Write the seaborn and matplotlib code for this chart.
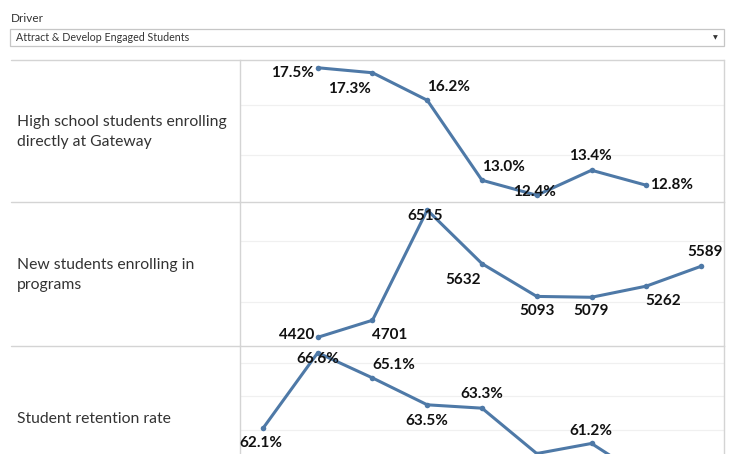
import numpy as np
import pandas as pd
import seaborn as sns
import matplotlib.pyplot as plt
from matplotlib.lines import Line2D
from matplotlib.patches import Rectangle

# data (x = period index, 9 periods)
hs_period = [1, 2, 3, 4, 5, 6, 7]
hs_rate = [17.5, 17.3, 16.2, 13.0, 12.4, 13.4, 12.8]

new_period = [1, 2, 3, 4, 5, 6, 7, 8]
new_students = [4420, 4701, 6515, 5632, 5093, 5079, 5262, 5589]

ret_period = [0, 1, 2, 3, 4, 5, 6, 7]
ret_rate = [62.1, 66.6, 65.1, 63.5, 63.3, 60.6, 61.2, 59.1]

row_labels = ['High school students enrolling\ndirectly at Gateway',
              'New students enrolling in\nprograms',
              'Student retention rate']

# label placement (pixel offsets from each point, None = label falls below the crop)
hs_off = [(-25, -5), (-23, -16), (21, 13), (21, 13), (-2, 3), (-1, 14), (25, 0)]
new_off = [(-21, 2), (17, -15), (-2, -6), (-19, -16), (0, -15), (-1, -14), (17, -15), (4, 14)]
ret_off = [(-2, -15), (0, -6), (21, 13), (0, -16), (0, 14), None, (-1, 12), None]

sns.set_style('white')
plt.rcParams['font.family'] = ['Lato', 'DejaVu Sans']

W, H = 736, 454
fig = plt.figure(figsize=(W / 100, H / 100), dpi=100)


def fx(x):
    return x / W


def fy(y):
    return 1 - y / H


line_col = '#4e79a7'
border = '#d4d4d4'

# filter header
fig.text(fx(11), fy(18), 'Driver', fontsize=8.5, color='#333333', va='center', ha='left')
fig.add_artist(Rectangle((fx(10), fy(46)), fx(714), 17.3 / H, transform=fig.transFigure,
                         facecolor='white', edgecolor='#c6c6c6', lw=0.9))
fig.text(fx(16), fy(37.5), 'Attract & Develop Engaged Students', fontsize=7.7,
         color='#333333', va='center', ha='left')
fig.text(fx(715), fy(37.5), '▼', fontsize=4.5, color='#333333', va='center', ha='center',
         family='DejaVu Sans')

# panel rows
rows = [
    (60, 202, hs_period, hs_rate, hs_off, '{:.1f}%', (12.13, 17.81), [14, 16]),
    (202, 346, new_period, new_students, new_off, '{:d}', (4277, 6647), [5000, 6000]),
    (346, 490, ret_period, ret_rate, ret_off, '{:.1f}%', (58.43, 67.0), [60, 62, 64, 66]),
]

for i, (top, bot, xs, ys, offs, fmt, ylim, grid) in enumerate(rows):
    ax = fig.add_axes([fx(240), fy(bot), fx(484), (bot - top) / H])
    df = pd.DataFrame({'period': xs, 'value': ys})
    sns.lineplot(data=df, x='period', y='value', ax=ax, color=line_col, lw=2.2,
                 marker='o', markersize=4, markeredgewidth=0)
    for x, y, off in zip(xs, ys, offs):
        if off is None:
            continue
        ax.annotate(fmt.format(y), (x, y), xytext=off, textcoords='offset pixels',
                    ha='center', va='center', fontsize=11, fontweight='bold',
                    color='#111111', annotation_clip=False)
    ax.set_xlim(-0.42, 8.42)
    ax.set_ylim(*ylim)
    ax.set_yticks(grid)
    ax.yaxis.grid(True, color='#f0f0f0', lw=0.9)
    ax.xaxis.grid(False)
    ax.tick_params(left=False, bottom=False, labelleft=False, labelbottom=False)
    ax.set_xlabel('')
    ax.set_ylabel('')
    for s in ['top', 'bottom']:
        ax.spines[s].set_visible(False)
    for s in ['left', 'right']:
        ax.spines[s].set_color(border)
        ax.spines[s].set_linewidth(1)
    fig.text(fx(17), fy((top + bot) / 2 + 1), row_labels[i], fontsize=11.3, color='#333333',
             va='center', ha='left', linespacing=1.55)

for y in [60, 202, 346]:
    fig.add_artist(Line2D([fx(11), fx(724)], [fy(y), fy(y)], transform=fig.transFigure,
                          color=border, lw=1))

fig.savefig('out.png', dpi=100)
